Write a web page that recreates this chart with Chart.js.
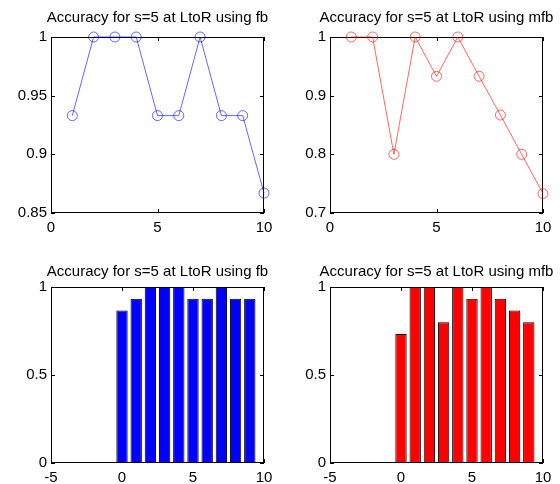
<!DOCTYPE html>
<html>
<head>
<meta charset="utf-8">
<script src="https://cdn.jsdelivr.net/npm/chart.js@4.4.1/dist/chart.umd.min.js"></script>
<style>
html,body{margin:0;padding:0;background:#fff;width:560px;height:484px;overflow:hidden;}
canvas{position:absolute;}
</style>
</head>
<body>
<canvas id="c1" width="280" height="242" style="left:0;top:0;width:280px;height:242px"></canvas>
<canvas id="c2" width="280" height="242" style="left:279px;top:0;width:280px;height:242px"></canvas>
<canvas id="c3" width="280" height="242" style="left:0;top:242px;width:280px;height:242px"></canvas>
<canvas id="c4" width="280" height="242" style="left:279px;top:242px;width:280px;height:242px"></canvas>
<script>
// ---- data ----
const xLine = [1, 2, 3, 4, 5, 6, 7, 8, 9, 10];
const fbLine = [0.933, 1, 1, 1, 0.933, 0.933, 1, 0.933, 0.933, 0.867];
const mfbLine = [1, 1, 0.8, 1, 0.933, 1, 0.933, 0.867, 0.8, 0.733];
const xBar = [0, 1, 2, 3, 4, 5, 6, 7, 8, 9];
const fbBar = [0.867, 0.933, 1, 1, 1, 0.933, 0.933, 1, 0.933, 0.933];
const mfbBar = [0.733, 1, 1, 0.8, 1, 0.933, 1, 0.933, 0.867, 0.8];

const xTicksLine = [0, 5, 10];
const xTickLabelsLine = ['0', '5', '10'];
const yTicksFb = [0.85, 0.9, 0.95, 1];
const yTickLabelsFb = ['0.85', '0.9', '0.95', '1'];
const yTicksMfb = [0.7, 0.8, 0.9, 1];
const yTickLabelsMfb = ['0.7', '0.8', '0.9', '1'];
const xTicksBar = [-5, 0, 5, 10];
const xTickLabelsBar = ['-5', '0', '5', '10'];
const yTicksBar = [0, 0.5, 1];
const yTickLabelsBar = ['0', '0.5', '1'];

const titleFb = 'Accuracy for s=5 at LtoR using fb';
const titleMfb = 'Accuracy for s=5 at LtoR using mfb';

const FONT = '"Liberation Sans", Arial, Helvetica, sans-serif';

const framePlugin = {
  id: 'matlabFrame',
  beforeDatasetsDraw(chart) {
    const ctx = chart.ctx, a = chart.chartArea;
    const xs = chart.scales.x, ys = chart.scales.y;
    ctx.save();
    ctx.strokeStyle = '#000';
    ctx.lineWidth = 1;
    ctx.strokeRect(Math.round(a.left) + 0.5, Math.round(a.top) + 0.5,
                   Math.round(a.right - a.left) - 1, Math.round(a.bottom - a.top) - 1);
    const tl = 4;
    ctx.beginPath();
    xs.ticks.forEach(t => {
      const px = Math.round(xs.getPixelForValue(t.value)) + 0.5;
      ctx.moveTo(px, a.bottom); ctx.lineTo(px, a.bottom - tl);
      ctx.moveTo(px, a.top); ctx.lineTo(px, a.top + tl);
    });
    ys.ticks.forEach(t => {
      const py = Math.round(ys.getPixelForValue(t.value)) + 0.5;
      ctx.moveTo(a.left, py); ctx.lineTo(a.left + tl, py);
      ctx.moveTo(a.right, py); ctx.lineTo(a.right - tl, py);
    });
    ctx.stroke();
    ctx.restore();
  },
  afterDraw(chart, args, opts) {
    const ctx = chart.ctx, a = chart.chartArea;
    ctx.save();
    ctx.fillStyle = '#000';
    ctx.font = '15px ' + FONT;
    ctx.textAlign = 'center';
    ctx.textBaseline = 'middle';
    ctx.fillText(opts.text, (a.left + a.right) / 2, a.top - opts.offset);
    ctx.restore();
  }
};

function scales(xmin, xmax, xt, xl, ymin, ymax, yt, yl, xh) {
  return {
    x: {
      type: 'linear', min: xmin, max: xmax, offset: false,
      grid: { display: false, drawTicks: false }, border: { display: false },
      afterBuildTicks: s => { s.ticks = xt.map(v => ({ value: v })); },
      afterFit: s => { s.height = xh; },
      ticks: { padding: 6, color: '#000', font: { family: FONT, size: 15 }, maxRotation: 0, autoSkip: false,
               callback: (v, i) => xl[i] }
    },
    y: {
      type: 'linear', min: ymin, max: ymax,
      grid: { display: false, drawTicks: false }, border: { display: false },
      afterBuildTicks: s => { s.ticks = yt.map(v => ({ value: v })); },
      afterFit: s => { s.width = 51; },
      ticks: { padding: 4, color: '#000', font: { family: FONT, size: 15 }, autoSkip: false,
               callback: (v, i) => yl[i] }
    }
  };
}

function baseOptions(sc, title, offset, padTop) {
  return {
    responsive: false, animation: false, devicePixelRatio: 1,
    layout: { padding: { left: 0, right: 16, top: padTop, bottom: 0 } },
    plugins: { legend: { display: false }, tooltip: { enabled: false }, title: { display: false },
               matlabFrame: { text: title, offset: offset } },
    scales: sc
  };
}

function lineChart(id, xs, ys, color, yt, yl, ymin, title) {
  new Chart(document.getElementById(id), {
    type: 'line',
    data: { datasets: [{
      data: xs.map((x, i) => ({ x: x, y: ys[i] })),
      borderColor: color, borderWidth: 1, fill: false, tension: 0,
      pointStyle: 'circle', pointRadius: 5, pointBorderWidth: 1,
      pointBorderColor: color, pointBackgroundColor: 'rgba(0,0,0,0)', clip: false
    }] },
    options: baseOptions(scales(0, 10, xTicksLine, xTickLabelsLine, ymin, 1, yt, yl, 29), title, 19, 37),
    plugins: [framePlugin]
  });
}

function barChart(id, xs, ys, color, title) {
  new Chart(document.getElementById(id), {
    type: 'bar',
    data: { datasets: [{
      data: xs.map((x, i) => ({ x: x, y: ys[i] })),
      backgroundColor: color, borderColor: '#000', borderWidth: 1,
      categoryPercentage: 1, barPercentage: 0.8, borderSkipped: false
    }] },
    options: baseOptions(scales(-5, 10, xTicksBar, xTickLabelsBar, 0, 1, yTicksBar, yTickLabelsBar, 21), title, 15, 45),
    plugins: [framePlugin]
  });
}

lineChart('c1', xLine, fbLine, 'rgba(0,0,255,0.6)', yTicksFb, yTickLabelsFb, 0.85, titleFb);
lineChart('c2', xLine, mfbLine, 'rgba(255,0,0,0.6)', yTicksMfb, yTickLabelsMfb, 0.7, titleMfb);
barChart('c3', xBar, fbBar, '#0000ff', titleFb);
barChart('c4', xBar, mfbBar, '#ff0000', titleMfb);
</script>
</body>
</html>
